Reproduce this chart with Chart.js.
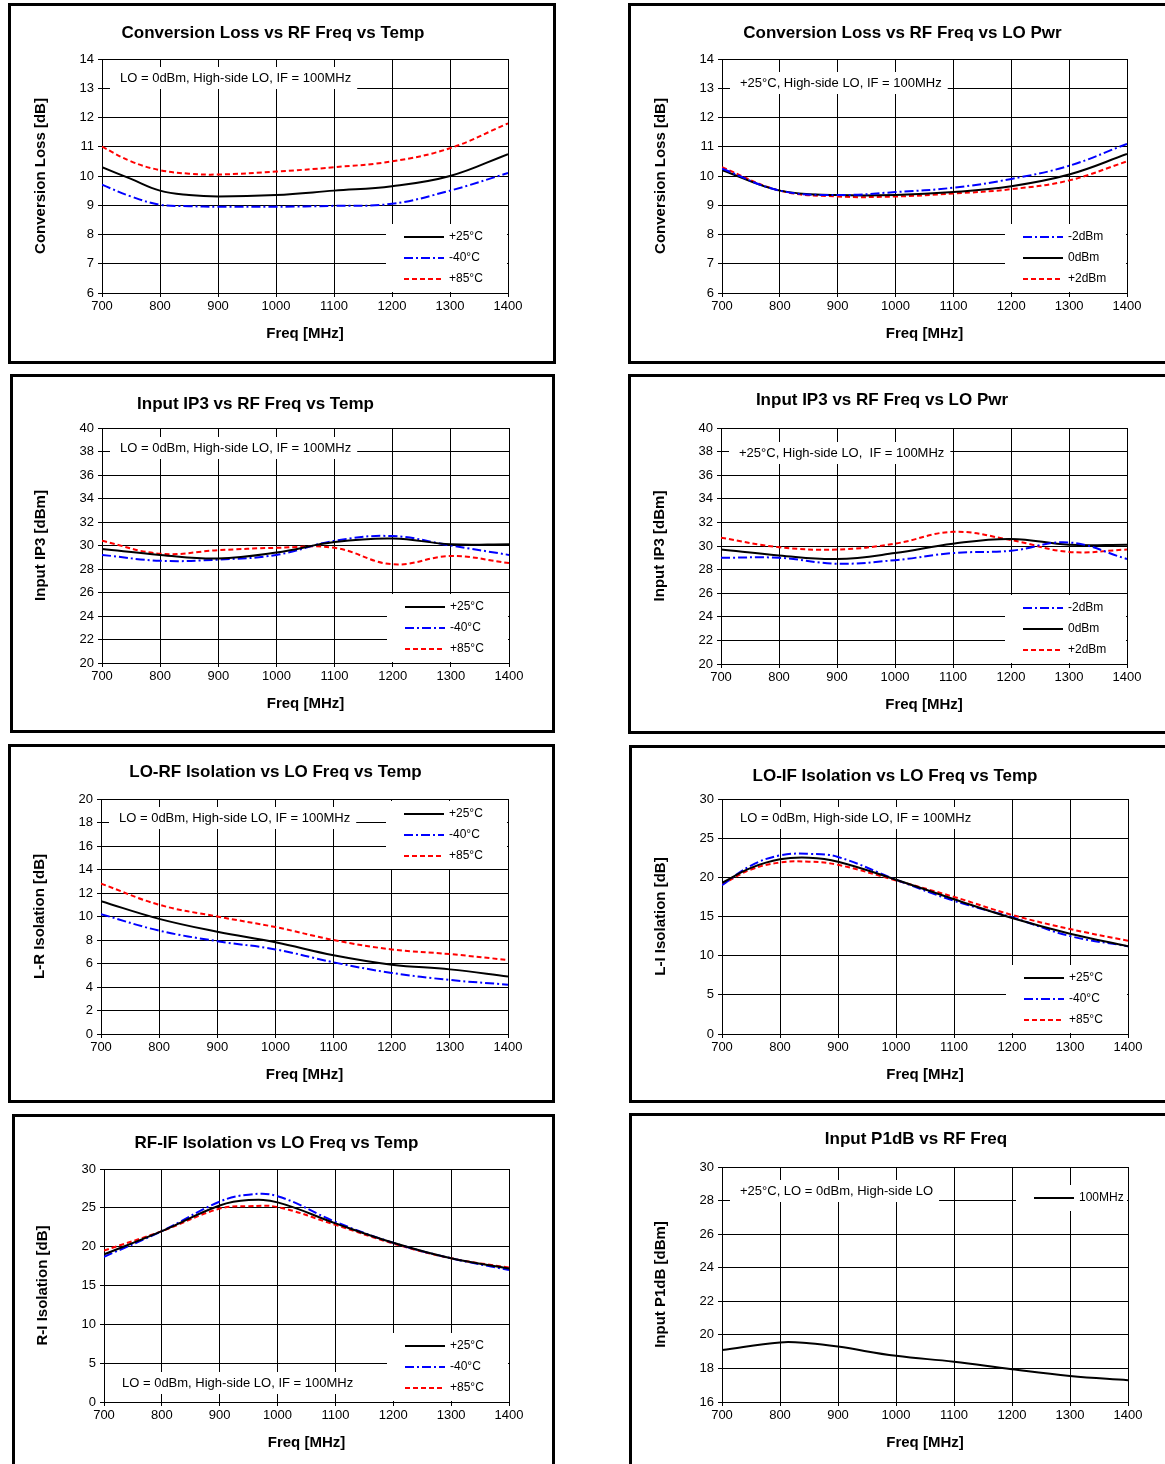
<!DOCTYPE html>
<html>
<head>
<meta charset="utf-8">
<script src="https://cdn.jsdelivr.net/npm/chart.js@4.4.1/dist/chart.umd.min.js"></script>
<style>
  body { margin: 0; background: #fff; width: 1165px; height: 1464px; position: relative; overflow: hidden; }
  .panel { position: absolute; border: 3px solid #000; box-sizing: border-box; background: #fff; }
  .panel canvas { display: block; }
</style>
</head>
<body>
<script>
// ---- data ----
var freq8 = [700, 800, 900, 1000, 1100, 1200, 1300, 1400];
var freqCL = [700, 750, 800, 850, 900, 1000, 1100, 1200, 1300, 1400];

var clT25 = [10.3, 9.9, 9.5, 9.35, 9.3, 9.35, 9.5, 9.65, 10.0, 10.75];
var clTm40 = [9.7, 9.3, 9.02, 8.97, 8.95, 8.95, 8.98, 9.05, 9.5, 10.1];
var clT85 = [11.0, 10.5, 10.2, 10.08, 10.05, 10.15, 10.3, 10.5, 10.95, 11.8];

var clPm2 = [10.25, 9.5, 9.35, 9.45, 9.6, 9.9, 10.35, 11.1];
var clP0 = [10.2, 9.5, 9.35, 9.35, 9.45, 9.65, 10.05, 10.75];
var clP2 = [10.3, 9.5, 9.3, 9.3, 9.4, 9.55, 9.85, 10.5];

var ipT25 = [29.7, 29.2, 28.9, 29.4, 30.3, 30.6, 30.1, 30.1];
var ipTm40 = [29.2, 28.7, 28.8, 29.2, 30.4, 30.8, 30.0, 29.2];
var ipT85 = [30.4, 29.3, 29.6, 29.8, 29.8, 28.4, 29.1, 28.5];

var ipPm2 = [29.0, 29.0, 28.5, 28.8, 29.4, 29.6, 30.3, 28.9];
var ipP0 = [29.7, 29.2, 28.9, 29.4, 30.2, 30.6, 30.1, 30.1];
var ipP2 = [30.7, 29.9, 29.7, 30.2, 31.2, 30.5, 29.5, 29.7];

var lrT25 = [11.3, 9.8, 8.7, 7.8, 6.7, 5.9, 5.5, 4.9];
var lrTm40 = [10.2, 8.8, 7.9, 7.2, 6.1, 5.2, 4.6, 4.2];
var lrT85 = [12.8, 11.0, 10.0, 9.1, 8.0, 7.2, 6.8, 6.3];

var freqLI = [700, 750, 800, 850, 900, 1000, 1100, 1200, 1300, 1400];
var liT25 = [19.3, 21.2, 22.3, 22.5, 22.0, 19.7, 17.2, 14.8, 12.8, 11.2];
var liTm40 = [19.0, 21.5, 22.8, 23.0, 22.6, 19.7, 17.0, 14.9, 12.5, 11.2];
var liT85 = [19.1, 21.0, 21.9, 22.0, 21.6, 19.6, 17.5, 15.2, 13.4, 11.9];

var freqRI = [700, 800, 900, 950, 1000, 1100, 1200, 1300, 1400];
var riT25 = [19.0, 22.0, 25.3, 26.0, 25.7, 23.0, 20.5, 18.5, 17.2];
var riTm40 = [18.7, 22.0, 25.8, 26.7, 26.5, 23.2, 20.5, 18.5, 17.0];
var riT85 = [19.5, 22.0, 24.9, 25.2, 25.1, 22.8, 20.4, 18.5, 17.3];

var freqP1 = [700, 800, 850, 900, 1000, 1100, 1200, 1300, 1400];
var p1dB = [19.1, 19.55, 19.5, 19.3, 18.75, 18.4, 17.95, 17.55, 17.3];

var tempLabels = ['+25°C', '-40°C', '+85°C'];
var pwrLabels = ['-2dBm', '0dBm', '+2dBm'];

// ---- styles ----
var sBlack = { color: '#000', dash: [] };
var sBlue = { color: '#0000ff', dash: [9, 3, 2, 3] };
var sRed = { color: '#ff0000', dash: [5, 3] };

function pts(xs, ys) { return xs.map(function (x, i) { return { x: x, y: ys[i] }; }); }
function ds(label, xs, ys, st) {
  return { label: label, data: pts(xs, ys), borderColor: st.color, borderDash: st.dash,
           borderWidth: 2, pointRadius: 0, tension: 0.4, fill: false };
}

var overlay = {
  id: 'overlay',
  afterDraw: function (chart) {
    var o = chart.options.plugins.overlay, ctx = chart.ctx, a = chart.chartArea;
    ctx.save();
    ctx.fillStyle = '#000';
    ctx.font = 'bold 17px "Liberation Sans", Arial, sans-serif';
    ctx.textAlign = 'center'; ctx.textBaseline = 'middle';
    ctx.fillText(o.title, (a.left + a.right) / 2 + o.titleDx, o.titleY);
    // annotation
    ctx.font = '13px "Liberation Sans", Arial, sans-serif';
    ctx.textAlign = 'left';
    var nw = ctx.measureText(o.note).width;
    var ny = a.top + o.noteDy;
    ctx.fillStyle = '#fff';
    ctx.fillRect(a.left + 8, ny - 11, nw + 16, 22);
    ctx.fillStyle = '#000';
    ctx.fillText(o.note, a.left + 18, ny);
    // legend
    var L = o.legend, n = chart.data.datasets.length;
    var lx = a.right - L.w, ly = L.top ? a.top + L.dy : a.bottom - n * 21 - 6;
    ctx.fillStyle = '#fff';
    ctx.fillRect(lx, ly, L.w - 1, n * 21 + 5);
    ctx.font = '12px "Liberation Sans", Arial, sans-serif';
    chart.data.datasets.forEach(function (d, i) {
      var y = ly + 13 + i * 21;
      ctx.strokeStyle = d.borderColor; ctx.lineWidth = 2;
      ctx.setLineDash(d.borderDash);
      ctx.beginPath(); ctx.moveTo(lx + 18, y); ctx.lineTo(lx + 58, y); ctx.stroke();
      ctx.fillStyle = '#000';
      ctx.fillText(d.label, lx + 63, y);
    });
    ctx.restore();
  }
};

var YW = 70, XH = 54;
function makeChart(p) {
  var div = document.createElement('div');
  div.className = 'panel';
  div.style.left = p.box[0] + 'px'; div.style.top = p.box[1] + 'px';
  div.style.width = p.box[2] + 'px'; div.style.height = p.box[3] + 'px';
  var cw = p.box[2] - 6, ch = p.box[3] - 6;
  var c = document.createElement('canvas');
  c.width = cw; c.height = ch;
  c.style.width = cw + 'px'; c.style.height = ch + 'px';
  div.appendChild(c);
  document.body.appendChild(div);
  var ox = p.box[0] + 3, oy = p.box[1] + 3;
  var pad = {
    left: p.plot[0] - ox - YW,
    top: p.plot[1] - oy,
    right: ox + cw - p.plot[2],
    bottom: oy + ch - p.plot[3] - XH
  };
  var tickFont = { family: '"Liberation Sans", Arial, sans-serif', size: 13 };
  var titleFont = { family: '"Liberation Sans", Arial, sans-serif', size: 15, weight: 'bold' };
  new Chart(c, {
    type: 'line',
    data: { datasets: p.datasets },
    options: {
      responsive: false, animation: false,
      layout: { padding: pad },
      plugins: { legend: { display: false }, tooltip: { enabled: false },
        overlay: { title: p.title, titleY: p.titleY, titleDx: p.titleDx || 0, note: p.note,
                   noteDy: p.noteDy, legend: p.legend } },
      scales: {
        x: { type: 'linear', min: 700, max: 1400,
             ticks: { stepSize: 100, color: '#000', font: tickFont, maxRotation: 0, padding: 2,
                      callback: function (v) { return String(v); } },
             grid: { color: '#000', lineWidth: 1, tickLength: 4 },
             border: { color: '#000', width: 1 },
             title: { display: true, text: 'Freq [MHz]', color: '#000', font: titleFont, padding: { top: 8 } },
             afterFit: function (s) { s.height = XH; } },
        y: { min: p.y[0], max: p.y[1],
             ticks: { stepSize: p.y[2], color: '#000', font: tickFont, padding: 4 },
             grid: { color: '#000', lineWidth: 1, tickLength: 4 },
             border: { color: '#000', width: 1 },
             title: { display: true, text: p.ytitle, color: '#000', font: titleFont, padding: { top: 0, bottom: 0 } },
             afterFit: function (s) { s.width = YW; } }
      }
    },
    plugins: [overlay]
  });
}

var noteT = 'LO = 0dBm, High-side LO, IF = 100MHz';
var legBR = { w: 122, top: false };

makeChart({ box: [8, 3, 548, 361], plot: [102, 59, 508, 293], y: [6, 14, 1],
  title: 'Conversion Loss vs RF Freq vs Temp', titleY: 27, titleDx: -32, ytitle: 'Conversion Loss [dB]',
  note: noteT, noteDy: 19, legend: legBR,
  datasets: [ds(tempLabels[0], freqCL, clT25, sBlack), ds(tempLabels[1], freqCL, clTm40, sBlue), ds(tempLabels[2], freqCL, clT85, sRed)] });

makeChart({ box: [628, 3, 545, 361], plot: [722, 59, 1127, 293], y: [6, 14, 1],
  title: 'Conversion Loss vs RF Freq vs LO Pwr', titleY: 27, titleDx: -22, ytitle: 'Conversion Loss [dB]',
  note: '+25°C, High-side LO, IF = 100MHz', noteDy: 24, legend: legBR,
  datasets: [ds(pwrLabels[0], freq8, clPm2, sBlue), ds(pwrLabels[1], freq8, clP0, sBlack), ds(pwrLabels[2], freq8, clP2, sRed)] });

makeChart({ box: [10, 374, 545, 359], plot: [102, 428, 509, 663], y: [20, 40, 2],
  title: 'Input IP3 vs RF Freq vs Temp', titleY: 27, titleDx: -50, ytitle: 'Input IP3 [dBm]',
  note: noteT, noteDy: 20, legend: legBR,
  datasets: [ds(tempLabels[0], freq8, ipT25, sBlack), ds(tempLabels[1], freq8, ipTm40, sBlue), ds(tempLabels[2], freq8, ipT85, sRed)] });

makeChart({ box: [628, 374, 545, 360], plot: [721, 428, 1127, 664], y: [20, 40, 2],
  title: 'Input IP3 vs RF Freq vs LO Pwr', titleY: 23, titleDx: -42, ytitle: 'Input IP3 [dBm]',
  note: '+25°C, High-side LO,  IF = 100MHz', noteDy: 25, legend: legBR,
  datasets: [ds(pwrLabels[0], freq8, ipPm2, sBlue), ds(pwrLabels[1], freq8, ipP0, sBlack), ds(pwrLabels[2], freq8, ipP2, sRed)] });

makeChart({ box: [8, 744, 547, 359], plot: [101, 799, 508, 1034], y: [0, 20, 2],
  title: 'LO-RF Isolation vs LO Freq vs Temp', titleY: 25, titleDx: -29, ytitle: 'L-R Isolation [dB]',
  note: noteT, noteDy: 19, legend: { w: 122, top: true, dy: 2 },
  datasets: [ds(tempLabels[0], freq8, lrT25, sBlack), ds(tempLabels[1], freq8, lrTm40, sBlue), ds(tempLabels[2], freq8, lrT85, sRed)] });

makeChart({ box: [629, 745, 545, 358], plot: [722, 799, 1128, 1034], y: [0, 30, 5],
  title: 'LO-IF Isolation vs LO Freq vs Temp', titleY: 28, titleDx: -30, ytitle: 'L-I Isolation [dB]',
  note: noteT, noteDy: 19, legend: legBR,
  datasets: [ds(tempLabels[0], freqLI, liT25, sBlack), ds(tempLabels[1], freqLI, liTm40, sBlue), ds(tempLabels[2], freqLI, liT85, sRed)] });

makeChart({ box: [12, 1114, 543, 360], plot: [104, 1169, 509, 1402], y: [0, 30, 5],
  title: 'RF-IF Isolation vs LO Freq vs Temp', titleY: 26, titleDx: -30, ytitle: 'R-I Isolation [dB]',
  note: noteT, noteDy: 214, legend: legBR,
  datasets: [ds(tempLabels[0], freqRI, riT25, sBlack), ds(tempLabels[1], freqRI, riTm40, sBlue), ds(tempLabels[2], freqRI, riT85, sRed)] });

makeChart({ box: [629, 1113, 545, 361], plot: [722, 1167, 1128, 1402], y: [16, 30, 2],
  title: 'Input P1dB vs RF Freq', titleY: 23, titleDx: -9, ytitle: 'Input P1dB [dBm]',
  note: '+25°C, LO = 0dBm, High-side LO', noteDy: 24, legend: { w: 112, top: true, dy: 18 },
  datasets: [ds('100MHz', freqP1, p1dB, sBlack)] });
</script>
</body>
</html>
